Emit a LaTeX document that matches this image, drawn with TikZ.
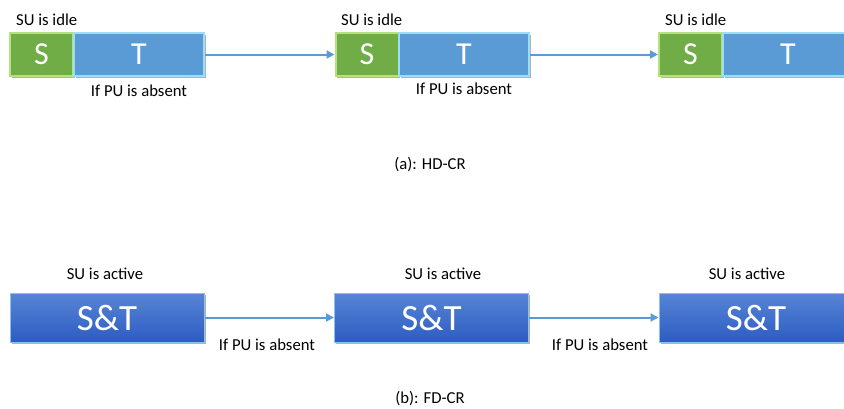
\documentclass[tikz,border=0pt]{standalone}
\usepackage{fontspec}
\setmainfont{Carlito}
\usetikzlibrary{arrows.meta,shadows}

\definecolor{sgreen}{HTML}{70AD47}
\definecolor{sgreenedge}{HTML}{B4E27E}
\definecolor{tblue}{HTML}{5B9BD5}
\definecolor{tblueedge}{HTML}{9EDDFA}
\definecolor{sttop}{HTML}{5885D6}
\definecolor{stbot}{HTML}{2C5CC2}
\definecolor{stedge}{HTML}{86C4EE}
\definecolor{linkblue}{HTML}{5B9BD5}

\tikzset{
  boxshadow/.style={drop shadow={shadow xshift=1.5pt,shadow yshift=-1.5pt,opacity=0.3,fill=black}},
  slotbox/.style={rectangle,inner sep=0pt,minimum height=43pt,line width=2pt,
    text=white,font=\fontsize{32}{35}\selectfont,boxshadow},
  sensebox/.style={slotbox,fill=sgreen,draw=sgreenedge,minimum width=63pt},
  sendbox/.style={slotbox,fill=tblue,draw=tblueedge,minimum width=130pt},
  stbox/.style={rectangle,inner sep=0pt,minimum width=194pt,minimum height=49pt,
    top color=sttop,bottom color=stbot,draw=stedge,line width=1pt,
    text=white,font=\fontsize{37}{40}\selectfont,boxshadow},
  lbl/.style={inner sep=0pt,font=\fontsize{16.7}{20}\selectfont,text=black},
  link/.style={draw=linkblue,line width=2pt,-{Triangle[length=8pt,width=8pt]}},
}

\begin{document}
\begin{tikzpicture}[x=1pt,y=-1pt]
\useasboundingbox (0,0) rectangle (844,408);
\clip (0,0) rectangle (844,408);
\fill[white] (0,0) rectangle (844,408);

% half-duplex frames: sensing slot followed by transmission slot
\node[sensebox] (s1) at (41.5,54.5) {S};
\node[sendbox]  (t1) at (139,54.5) {T};
\node[sensebox] (s2) at (367,54.5) {S};
\node[sendbox]  (t2) at (464,54.5) {T};
\node[sensebox] (s3) at (690.5,54.5) {S};
\node[sendbox]  (t3) at (788,54.5) {T};

\draw[link] (t1.east) -- (s2.west);
\draw[link] (t2.east) -- (s3.west);

\node[lbl,anchor=base west] (i1) at (16,25) {SU is idle};
\node[lbl,anchor=base west] (i2) at (341,25) {SU is idle};
\node[lbl,anchor=base west] (i3) at (665,25) {SU is idle};
\node[lbl,anchor=base] (a1) at (139,96) {If PU is absent};
\node[lbl,anchor=base] (a2) at (464,94) {If PU is absent};
\node[lbl,anchor=base] (capa) at (430,169) {(a): HD-CR};

% full-duplex frames: simultaneous sensing and transmission
\node[stbox] (st1) at (107,317.5) {S\&T};
\node[stbox] (st2) at (431.5,317.5) {S\&T};
\node[stbox] (st3) at (756,317.5) {S\&T};

\draw[link] (st1.east) -- (st2.west);
\draw[link] (st2.east) -- (st3.west);

\node[lbl,anchor=base] (b1) at (105,279) {SU is active};
\node[lbl,anchor=base] (b2) at (443,279) {SU is active};
\node[lbl,anchor=base] (b3) at (747,279) {SU is active};
\node[lbl,anchor=base] (c1) at (267,350) {If PU is absent};
\node[lbl,anchor=base] (c2) at (600,350) {If PU is absent};
\node[lbl,anchor=base] (capb) at (430,403) {(b): FD-CR};
\end{tikzpicture}
\end{document}
